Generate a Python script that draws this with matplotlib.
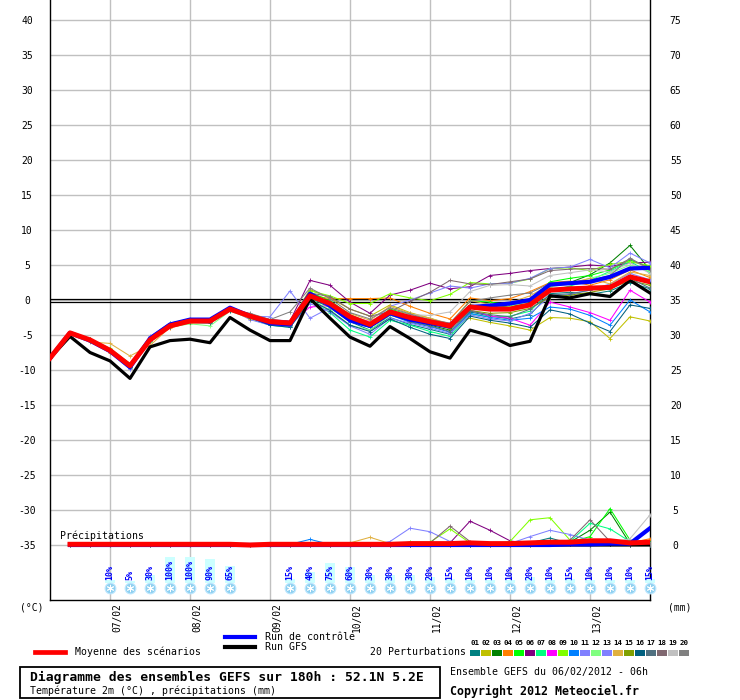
import matplotlib
matplotlib.use("Agg")
import matplotlib.pyplot as plt
import matplotlib.transforms as mtransforms
from matplotlib.lines import Line2D
from matplotlib.patches import Rectangle

W, H = 740, 700
plt.rcParams["font.family"] = ["DejaVu Sans Mono", "DejaVu Sans"]

# ---- data -------------------------------------------------------------
hours = list(range(0, 181, 6))          # 06/02 06h + n hours
precip_hours = hours[1:]

day_hours = [18, 42, 66, 90, 114, 138, 162]
day_labels = ["07/02", "08/02", "09/02", "10/02", "11/02", "12/02", "13/02"]

temp_ticks = list(range(-35, 41, 5))
mm_ticks = list(range(0, 76, 5))

mean_t = [-8.3, -4.7, -5.7, -7.2, -9.4, -5.7, -3.7, -3.0, -3.0, -1.3, -2.3, -3.1, -3.3, 0.6, -0.5, -2.4,
          -3.5, -1.7, -2.5, -3.1, -3.7, -1.0, -1.3, -1.3, -0.7, 1.4, 1.6, 1.7, 1.8, 3.3, 2.6]
ctrl_t = [-8.3, -4.7, -5.8, -7.3, -9.6, -5.5, -3.5, -2.8, -2.8, -1.1, -2.3, -3.3, -3.5, 0.9, -0.8, -2.9,
          -3.7, -1.9, -2.8, -3.3, -3.8, -1.0, -0.8, -0.5, 0.0, 2.2, 2.4, 2.6, 3.3, 4.5, 4.6]
gfs_t = [-8.3, -5.2, -7.5, -8.7, -11.2, -6.7, -5.8, -5.6, -6.1, -2.5, -4.3, -5.8, -5.8, 0.2, -2.6, -5.3,
         -6.6, -3.8, -5.5, -7.4, -8.3, -4.3, -5.1, -6.5, -5.9, 0.6, 0.3, 0.9, 0.5, 2.8, 1.0]

pert_t = [
    [-8.3, -4.7, -5.8, -7.3, -9.5, -5.6, -3.6, -2.9, -3.0, -1.4, -2.6, -3.5, -3.7, 0.3, -1.1, -3.1, -4.3, -2.5, -3.5, -4.2, -4.9, -1.7, -2.3, -2.7, -2.1, 0.9, 1.1, 0.8, 1.3, 2.5, 1.6],
    [-8.3, -4.7, -5.6, -7.0, -9.1, -5.9, -3.8, -3.2, -3.1, -1.3, -2.0, -2.8, -3.1, 1.5, 0.3, -1.3, -2.3, -0.7, -1.8, -2.6, -3.5, -2.6, -3.2, -3.7, -4.3, -2.5, -2.6, -3.1, -5.5, -2.4, -3.0],
    [-8.3, -4.7, -5.7, -7.1, -9.3, -5.5, -3.4, -2.8, -2.9, -1.2, -2.3, -3.3, -3.5, 0.9, -0.8, -2.8, -3.9, -2.1, -2.9, -3.6, -4.3, -0.7, -1.1, -0.9, -0.5, 2.0, 2.5, 3.6, 5.3, 7.8, 4.3],
    [-8.3, -4.7, -5.9, -7.5, -9.7, -5.9, -4.0, -3.2, -3.1, -1.4, -2.4, -3.0, -3.3, 0.7, 0.2, 0.2, 0.2, 0.3, -0.9, -1.9, -2.7, 0.3, -0.1, 0.2, 1.2, 2.5, 2.7, 2.1, 2.9, 4.3, 3.2],
    [-8.3, -4.7, -5.6, -7.1, -9.2, -5.3, -3.3, -2.8, -2.7, -1.3, -2.2, -2.9, -3.2, 1.1, -0.1, -2.1, -3.3, -1.3, -2.1, -2.9, -3.5, -0.1, -0.3, -0.7, -0.2, 2.6, 3.1, 3.5, 4.3, 5.7, 4.7],
    [-8.3, -4.7, -5.7, -7.2, -9.4, -5.8, -3.8, -3.0, -2.9, -1.2, -2.1, -2.8, -3.0, 2.8, 2.1, -0.3, -1.9, 0.7, 1.4, 2.4, 1.6, 1.9, 3.5, 3.8, 4.2, 4.5, 4.7, 5.0, 4.8, 5.3, 5.4],
    [-8.3, -4.7, -5.8, -7.4, -9.7, -6.0, -3.8, -2.9, -2.9, -1.4, -2.7, -3.6, -3.9, -0.1, -1.8, -4.3, -5.3, -2.9, -3.6, -4.5, -5.2, -2.0, -2.4, -2.3, -1.6, 1.3, 2.0, 2.8, 4.1, 5.5, 3.9],
    [-8.3, -4.7, -5.7, -7.1, -9.3, -5.7, -3.8, -2.9, -2.8, -1.2, -2.5, -3.3, -3.4, -1.0, -0.8, -2.3, -3.1, -1.5, -2.2, -2.9, -3.3, -1.4, -2.3, -2.6, -3.6, -0.3, -1.0, -1.8, -2.9, 1.4, -0.3],
    [-8.3, -4.7, -5.6, -6.9, -9.1, -5.5, -3.7, -2.9, -3.0, -1.4, -2.4, -3.3, -3.5, 1.3, 0.6, -0.5, -0.5, 0.9, 0.3, -0.1, 0.8, 2.5, 2.3, 2.4, 3.0, 4.5, 4.6, 4.2, 5.1, 5.5, 4.9],
    [-8.3, -4.7, -5.8, -7.3, -9.6, -5.4, -3.5, -2.8, -2.8, -1.1, -2.4, -3.4, -3.6, 0.5, -0.9, -3.1, -3.9, -2.1, -3.2, -3.8, -4.6, -1.9, -2.5, -2.9, -2.6, -1.0, -1.3, -2.2, -3.6, 0.0, -1.7],
    [-8.3, -4.7, -5.9, -7.4, -9.8, -5.2, -3.3, -2.7, -2.8, -1.3, -2.3, -2.4, 1.3, -2.6, -1.1, -2.9, -3.4, -0.9, 0.0, 1.0, 2.0, 1.7, 2.3, 2.4, 3.1, 4.5, 4.7, 5.8, 4.6, 6.7, 5.3],
    [-8.3, -4.7, -5.7, -7.2, -9.3, -5.8, -3.9, -3.4, -3.7, -1.6, -2.6, -3.5, -3.8, 0.1, -1.4, -3.6, -4.3, -2.2, -2.8, -3.4, -3.9, -1.2, -1.4, -0.9, -0.2, 1.9, 2.3, 3.1, 3.8, 5.0, 4.1],
    [-8.3, -4.7, -5.9, -7.3, -9.9, -5.3, -3.5, -2.9, -2.9, -1.3, -2.8, -3.6, -3.8, -0.5, -1.7, -3.7, -4.9, -2.6, -3.3, -4.0, -4.8, -2.1, -2.7, -3.0, -1.9, 0.5, 0.8, 1.4, 2.3, 3.8, 2.9],
    [-8.3, -4.7, -6.0, -6.2, -8.0, -6.5, -3.9, -3.3, -3.2, -1.4, -2.7, -3.3, -3.6, 0.4, -0.6, -1.9, -2.9, -0.9, -1.9, -2.6, -3.4, -0.1, -0.6, -0.4, 0.6, 2.2, 2.4, 3.1, 2.3, 4.0, 3.5],
    [-8.3, -4.7, -5.7, -7.0, -9.2, -5.9, -3.7, -3.1, -3.1, -1.4, -2.3, -3.0, -3.2, 0.8, -0.4, -2.5, -3.4, -1.8, -2.7, -3.3, -4.1, -1.5, -1.9, -1.8, -1.2, 0.4, 0.7, 1.1, 1.6, 2.8, 2.1],
    [-8.3, -4.7, -5.8, -7.3, -9.5, -5.9, -3.9, -3.2, -3.3, -1.5, -2.5, -3.6, -3.9, 0.0, -1.5, -3.6, -4.5, -2.7, -3.9, -4.9, -5.5, -2.3, -2.9, -3.3, -3.9, -1.4, -2.0, -3.3, -4.5, -0.7, -1.2],
    [-8.3, -4.7, -5.7, -7.2, -9.5, -5.6, -3.6, -3.1, -3.2, -1.3, -2.4, -3.2, -3.5, 0.6, -0.6, -2.6, -3.7, -1.9, -3.1, -3.7, -4.5, -1.6, -2.1, -2.4, -1.3, 0.7, 0.9, 1.4, 2.1, 3.1, 1.7],
    [-8.3, -4.7, -5.6, -7.1, -9.3, -5.7, -3.7, -3.0, -3.1, -1.3, -2.2, -2.9, -3.1, 1.0, 0.5, -1.3, -2.3, -1.7, -0.2, 1.1, 2.8, 2.3, 2.2, 2.6, 3.0, 4.2, 4.4, 4.5, 4.4, 5.9, 4.5],
    [-8.3, -4.7, -5.7, -7.2, -9.4, -5.9, -3.6, -2.9, -2.9, -1.3, -2.3, -3.1, -3.2, 0.7, -0.5, -2.2, -3.2, -1.5, -2.1, -2.2, -1.7, 1.2, 2.1, 2.2, 2.0, 3.5, 3.9, 4.3, 4.0, 5.3, 3.8],
    [-8.3, -4.7, -5.8, -7.3, -9.4, -5.6, -3.7, -3.0, -2.9, -1.3, -1.9, -2.8, -1.7, 1.7, 0.2, -1.8, -2.7, -1.1, -2.0, -2.8, -3.3, -0.2, 0.3, 0.7, 1.0, 2.4, 2.6, 2.8, 3.5, 6.0, 4.3],
]

pert_names = ["01", "02", "03", "04", "05", "06", "07", "08", "09", "10",
              "11", "12", "13", "14", "15", "16", "17", "18", "19", "20"]
pert_colors = ["#008080", "#c0c000", "#008000", "#ff8000", "#00ff00", "#800080", "#00ff80", "#ff00ff",
               "#80ff00", "#0080ff", "#8080ff", "#80ff80", "#8080ff", "#e0b040", "#80a000", "#006080",
               "#507080", "#806870", "#c0c0c0", "#808080"]

# precipitation (mm per 6h)
mean_p = [0.1, 0.1, 0.1, 0.1, 0.1, 0.1, 0.1, 0.1, 0.1, 0.0, 0.1, 0.1, 0.1, 0.1, 0.1,
          0.1, 0.1, 0.2, 0.2, 0.2, 0.3, 0.2, 0.2, 0.3, 0.4, 0.4, 0.6, 0.6, 0.3, 0.4]
ctrl_p = [0.0, 0.0, 0.0, 0.0, 0.0, 0.0, 0.0, 0.0, 0.0, 0.0, 0.0, 0.0, 0.0, 0.0, 0.0,
          0.0, 0.0, 0.0, 0.0, 0.0, 0.0, 0.0, 0.0, 0.0, 0.0, 0.1, 0.1, 0.2, 0.2, 2.4]
gfs_p = [0.0, 0.0, 0.0, 0.1, 0.1, 0.0, 0.0, 0.1, 0.1, 0.0, 0.0, 0.0, 0.0, 0.0, 0.0,
         0.0, 0.0, 0.0, 0.0, 0.0, 0.0, 0.0, 0.0, 0.0, 0.0, 0.0, 0.0, 0.0, 0.0, 0.0]
pert_p = [
    [0.0, 0.0, 0.0, 0.0, 0.0, 0.0, 0.0, 0.0, 0.0, 0.0, 0.0, 0.0, 0.0, 0.0, 0.0, 0.0, 0.1, 0.2, 0.1, 0.2, 0.1, 0.0, 0.0, 0.3, 1.0, 0.2, 0.1, 0.3, 0.0, 0.0],
    [0.0, 0.0, 0.0, 0.0, 0.0, 0.1, 0.0, 0.0, 0.0, 0.0, 0.0, 0.0, 0.0, 0.0, 0.0, 0.0, 0.0, 0.1, 0.1, 0.0, 0.0, 0.0, 0.0, 0.0, 0.1, 0.1, 0.0, 0.2, 0.1, 0.0],
    [0.0, 0.0, 0.0, 0.0, 0.1, 0.1, 0.0, 0.0, 0.0, 0.0, 0.0, 0.0, 0.0, 0.0, 0.0, 0.0, 0.1, 0.1, 0.2, 0.1, 0.1, 0.0, 0.0, 0.1, 0.3, 0.4, 2.1, 4.7, 0.2, 0.3],
    [0.0, 0.0, 0.0, 0.1, 0.1, 0.0, 0.0, 0.0, 0.0, 0.0, 0.0, 0.0, 0.0, 0.1, 0.2, 0.2, 0.2, 0.1, 0.1, 0.2, 0.1, 0.0, 0.0, 0.1, 0.2, 0.3, 0.4, 0.5, 0.3, 0.9],
    [0.0, 0.0, 0.0, 0.0, 0.0, 0.1, 0.0, 0.0, 0.0, 0.0, 0.0, 0.0, 0.0, 0.0, 0.0, 0.0, 0.1, 0.2, 0.1, 0.3, 0.1, 0.0, 0.1, 0.2, 0.3, 0.4, 1.2, 5.2, 0.7, 0.2],
    [0.0, 0.0, 0.0, 0.0, 0.0, 0.0, 0.0, 0.0, 0.0, 0.0, 0.0, 0.0, 0.0, 0.0, 0.0, 0.0, 0.0, 0.1, 0.2, 0.3, 3.4, 2.1, 0.6, 0.1, 0.2, 0.1, 0.2, 0.3, 0.1, 0.0],
    [0.0, 0.0, 0.0, 0.0, 0.0, 0.0, 0.0, 0.0, 0.0, 0.0, 0.0, 0.0, 0.0, 0.0, 0.0, 0.0, 0.1, 0.1, 0.1, 0.2, 0.1, 0.1, 0.0, 0.1, 0.2, 0.5, 3.1, 2.3, 0.5, 0.3],
    [0.0, 0.0, 0.0, 0.0, 0.0, 0.0, 0.0, 0.0, 0.0, 0.0, 0.0, 0.0, 0.0, 0.0, 0.0, 0.0, 0.0, 0.1, 0.1, 0.1, 0.1, 0.0, 0.0, 0.1, 0.2, 0.2, 0.2, 0.3, 0.1, 0.1],
    [0.0, 0.0, 0.0, 0.0, 0.0, 0.0, 0.0, 0.0, 0.0, 0.0, 0.0, 0.0, 0.0, 0.0, 0.0, 0.0, 0.2, 0.4, 0.4, 2.3, 0.3, 0.1, 0.5, 3.6, 3.9, 0.7, 0.3, 0.3, 0.2, 0.1],
    [0.0, 0.0, 0.0, 0.0, 0.0, 0.0, 0.0, 0.0, 0.0, 0.0, 0.0, 0.1, 0.8, 0.1, 0.0, 0.0, 0.0, 0.0, 0.1, 0.1, 0.0, 0.0, 0.0, 0.0, 0.1, 0.1, 0.1, 0.2, 0.0, 0.0],
    [0.0, 0.0, 0.0, 0.0, 0.0, 0.0, 0.0, 0.0, 0.0, 0.0, 0.0, 0.0, 0.0, 0.0, 0.0, 0.0, 0.5, 2.4, 1.9, 0.5, 0.1, 0.1, 0.2, 0.3, 0.3, 0.2, 0.2, 0.3, 0.2, 0.1],
    [0.0, 0.0, 0.0, 0.0, 0.0, 0.0, 0.0, 0.0, 0.0, 0.0, 0.0, 0.0, 0.0, 0.0, 0.0, 0.0, 0.1, 0.4, 0.3, 0.2, 0.1, 0.0, 0.0, 0.1, 0.2, 0.2, 0.3, 0.4, 0.2, 0.1],
    [0.0, 0.0, 0.0, 0.0, 0.0, 0.0, 0.0, 0.0, 0.0, 0.0, 0.0, 0.0, 0.0, 0.0, 0.0, 0.0, 0.0, 0.1, 0.1, 0.1, 0.1, 0.1, 0.2, 1.2, 2.1, 1.5, 0.7, 0.3, 0.1, 0.1],
    [0.0, 0.0, 0.0, 0.0, 0.0, 0.0, 0.0, 0.0, 0.0, 0.0, 0.0, 0.0, 0.0, 0.1, 0.3, 1.1, 0.2, 0.1, 0.1, 0.1, 0.1, 0.0, 0.0, 0.1, 0.2, 0.2, 0.3, 0.4, 0.2, 0.1],
    [0.0, 0.0, 0.0, 0.0, 0.0, 0.0, 0.0, 0.0, 0.0, 0.0, 0.0, 0.0, 0.0, 0.0, 0.0, 0.0, 0.0, 0.0, 0.1, 0.1, 0.0, 0.0, 0.0, 0.0, 0.1, 0.1, 0.1, 0.1, 0.0, 0.0],
    [0.0, 0.0, 0.0, 0.0, 0.0, 0.0, 0.0, 0.0, 0.0, 0.0, 0.0, 0.0, 0.0, 0.0, 0.0, 0.0, 0.0, 0.0, 0.0, 0.0, 0.0, 0.0, 0.0, 0.2, 0.5, 0.1, 0.0, 0.1, 0.0, 0.0],
    [0.0, 0.0, 0.0, 0.0, 0.0, 0.0, 0.0, 0.0, 0.0, 0.0, 0.0, 0.0, 0.0, 0.0, 0.0, 0.0, 0.0, 0.0, 0.1, 0.1, 0.1, 0.0, 0.0, 0.1, 0.2, 0.1, 0.1, 0.2, 0.0, 0.0],
    [0.0, 0.0, 0.0, 0.0, 0.0, 0.0, 0.0, 0.0, 0.0, 0.0, 0.0, 0.0, 0.0, 0.0, 0.0, 0.0, 0.0, 0.1, 0.3, 2.7, 0.5, 0.1, 0.1, 0.2, 0.3, 0.7, 3.6, 0.5, 0.2, 0.1],
    [0.0, 0.0, 0.0, 0.0, 0.0, 0.0, 0.0, 0.0, 0.0, 0.0, 0.0, 0.0, 0.0, 0.0, 0.0, 0.0, 0.0, 0.1, 0.1, 0.1, 0.1, 0.0, 0.0, 0.1, 0.2, 0.2, 0.2, 0.3, 0.9, 4.3],
    [0.0, 0.0, 0.0, 0.0, 0.0, 0.0, 0.0, 0.0, 0.0, 0.0, 0.0, 0.0, 0.0, 0.0, 0.0, 0.0, 0.0, 0.1, 0.1, 0.1, 0.1, 0.0, 0.0, 0.1, 0.3, 0.3, 0.2, 0.3, 0.1, 0.2],
]

# snow probability (%)
snow_hours = [18, 24, 30, 36, 42, 48, 54, 72, 78, 84, 90, 96, 102, 108, 114, 120, 126,
              132, 138, 144, 150, 156, 162, 168, 174, 180]
snow_pct = [10, 5, 30, 100, 100, 90, 65, 15, 40, 75, 60, 30, 30, 30, 20, 15, 10,
            10, 10, 20, 10, 15, 10, 10, 10, 15]


def fx(px):
    return px / W


def fy(py):
    return 1 - py / H


fig = plt.figure(figsize=(W / 100, H / 100), dpi=100)
ax = fig.add_axes([fx(50), fy(600), 600 / W, 600 / H])
ax.set_xlim(0, 180)
ax.set_ylim(-300 / 7, 300 / 7)
ax2 = ax.twinx()
ax2.set_ylim(-300 / 7 + 35, 300 / 7 + 35)

GRID = "#c0c0c0"
ax.set_yticks(temp_ticks)
ax.set_yticklabels([str(v) for v in temp_ticks])
ax.set_xticks(day_hours)
ax.set_xticklabels([])
ax.grid(True, color=GRID, lw=1.0)
ax.tick_params(axis="both", length=0)
ax.tick_params(axis="y", pad=16.5, labelsize=7.0)
for lbl in ax.get_yticklabels():
    lbl.set_ha("center")

ax2.set_yticks(mm_ticks)
ax2.set_yticklabels([str(v) for v in mm_ticks])
ax2.tick_params(axis="y", length=0, pad=18.5, labelsize=7.0)
for lbl in ax2.get_yticklabels():
    lbl.set_ha("center")

ax.spines["top"].set_visible(False)
for s in ["left", "right", "bottom"]:
    ax.spines[s].set_color("black")
    ax.spines[s].set_linewidth(1.0)
for s in ax2.spines.values():
    s.set_visible(False)

# double black line at 0°C
ax.axhline(0.1, color="black", lw=0.9, zorder=2)
ax.axhline(-0.25, color="black", lw=0.9, zorder=2)

# temperature
for vals, col in zip(pert_t, pert_colors):
    ax.plot(hours, vals, color=col, lw=0.75, marker="+", ms=3, mew=0.6, zorder=3)
ax.plot(hours, gfs_t, color="black", lw=2.3, zorder=4)
ax.plot(hours, ctrl_t, color="#0000ff", lw=3.0, zorder=5)
ax.plot(hours, mean_t, color="#ff0000", lw=3.6, zorder=6)

# precipitation
for vals, col in zip(pert_p, pert_colors):
    ax2.plot(precip_hours, vals, color=col, lw=0.75, marker="+", ms=3, mew=0.6, zorder=3)
ax2.plot(precip_hours, gfs_p, color="black", lw=2.3, zorder=4)
ax2.plot(precip_hours, ctrl_p, color="#0000ff", lw=3.0, zorder=5)
ax2.plot(precip_hours, mean_p, color="#ff0000", lw=3.6, zorder=6)
ax2.text(3.0, 1.3, "Précipitations", fontsize=7.1, va="center", ha="left")

# snow probabilities
trans = mtransforms.blended_transform_factory(ax.transData, ax.transAxes)
for h, p in zip(snow_hours, snow_pct):
    ax.add_patch(Rectangle((h - 1.5, 17.5 / 600), 3.0, p * 0.26 / 600, transform=trans,
                           facecolor="#ccffff", edgecolor="none", zorder=6, clip_on=False))
    ax.text(h, 20 / 600, f"{p}%", transform=trans, rotation=90, ha="center", va="bottom",
            fontsize=6, color="#0000ff", fontweight="bold", zorder=7)
ax.scatter(snow_hours, [12 / 600] * len(snow_hours), transform=trans, s=60, color="#8fd0f0",
           edgecolors="#c0e8ff", linewidths=0.8, zorder=7, clip_on=False)
ax.scatter(snow_hours, [12 / 600] * len(snow_hours), transform=trans, s=22, marker=(6, 2, 0),
           color="white", linewidths=0.7, zorder=8, clip_on=False)

# date labels
for h, lab in zip(day_hours, day_labels):
    ax.text(h + 2.1, -3 / 600, lab, transform=trans, rotation=90, ha="center", va="top",
            fontsize=6.9, clip_on=False)

fig.text(fx(20), fy(607), "(°C)", fontsize=7.0, va="center", ha="left")
fig.text(fx(668), fy(607), "(mm)", fontsize=7.0, va="center", ha="left")

# legend
fig.add_artist(Line2D([fx(35), fx(65)], [fy(652)] * 2, color="#ff0000", lw=3.4))
fig.text(fx(75), fy(652), "Moyenne des scénarios", fontsize=7.1, va="center", ha="left")
fig.add_artist(Line2D([fx(225), fx(255)], [fy(637)] * 2, color="#0000ff", lw=3.0))
fig.text(fx(265), fy(637), "Run de contrôle", fontsize=7.1, va="center", ha="left")
fig.add_artist(Line2D([fx(225), fx(255)], [fy(647)] * 2, color="black", lw=3.0))
fig.text(fx(265), fy(647), "Run GFS", fontsize=7.1, va="center", ha="left")
fig.text(fx(370), fy(652), "20 Perturbations", fontsize=7.1, va="center", ha="left")
for k, (name, col) in enumerate(zip(pert_names, pert_colors)):
    x0 = 470 + 11 * k
    fig.add_artist(Rectangle((fx(x0), fy(655.5)), 10 / W, 5.5 / H, facecolor=col,
                             edgecolor="none", transform=fig.transFigure))
    fig.text(fx(x0 + 5), fy(643), name, fontsize=5.3, fontweight="bold", va="center", ha="center")

# footer
fig.add_artist(Rectangle((fx(20), fy(698)), 420 / W, 31 / H, facecolor="none",
                         edgecolor="black", lw=1.3, transform=fig.transFigure))
fig.text(fx(30), fy(677), "Diagramme des ensembles GEFS sur 180h : 52.1N 5.2E",
         fontsize=9.4, fontweight="bold", va="center", ha="left")
fig.text(fx(30), fy(691), "Température 2m (°C) , précipitations (mm)",
         fontsize=7.1, va="center", ha="left")
fig.text(fx(450), fy(672), "Ensemble GEFS du 06/02/2012 - 06h", fontsize=7.1, va="center", ha="left")
fig.text(fx(450), fy(691), "Copyright 2012 Meteociel.fr", fontsize=8.4, fontweight="bold",
         va="center", ha="left")

fig.savefig("out.png", dpi=100)
